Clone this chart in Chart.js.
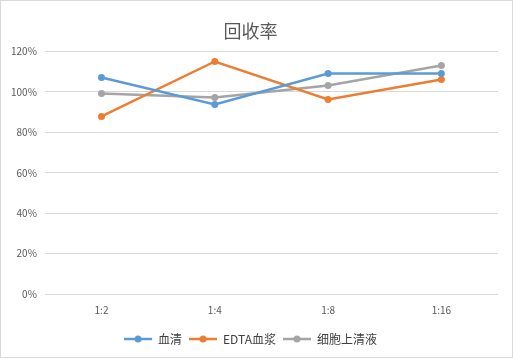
<!DOCTYPE html>
<html><head><meta charset="utf-8">
<script src="https://cdn.jsdelivr.net/npm/chart.js@4/dist/chart.umd.min.js"></script>
<style>
html,body{margin:0;padding:0;background:#fff;}
#wrap{width:513px;height:358px;box-sizing:border-box;border:1px solid #d9d9d9;}
canvas{display:block;}
</style></head>
<body><div id="wrap"><canvas id="c" width="511" height="356"></canvas></div>
<script>
const categories = ["1:2","1:4","1:8","1:16"];
const seriesNames = ["血清","EDTA血浆","细胞上清液"];
const serum = [107.2, 93.8, 109.1, 109.1];
const edta = [87.9, 115.1, 96.3, 106.2];
const supernatant = [99.3, 97.3, 103.2, 113.1];
const yTicks = [0,20,40,60,80,100,120];
const colors = ["#5B9BD5","#ED7D31","#A5A5A5"];
const FONT = "'Noto Sans CJK SC', 'Liberation Sans', sans-serif";

function legendIcon(color){
  const c=document.createElement('canvas'); c.width=28; c.height=8;
  const x=c.getContext('2d');
  x.strokeStyle=color; x.lineWidth=2.5; x.beginPath(); x.moveTo(0,4); x.lineTo(28,4); x.stroke();
  x.fillStyle=color; x.beginPath(); x.arc(14,4,3.5,0,Math.PI*2); x.fill();
  return c;
}
const data=[serum,edta,supernatant];
new Chart(document.getElementById('c'),{
  type:'line',
  data:{labels:categories,datasets:seriesNames.map((n,i)=>({
    label:n,data:data[i],borderColor:colors[i],backgroundColor:colors[i],
    borderWidth:2.5,pointRadius:3.5,pointHoverRadius:3.5,pointBorderWidth:0,tension:0,
    pointStyle:'circle'
  }))},
  options:{
    responsive:false,animation:false,
    layout:{padding:{left:2,right:14,top:13,bottom:2}},
    plugins:{
      title:{display:true,text:'回收率',color:'#595959',font:{family:FONT,size:18,weight:'normal'},padding:{top:6,bottom:10}},
      legend:{position:'bottom',labels:{
        color:'#404040',font:{family:FONT,size:12},usePointStyle:true,pointStyleWidth:28,padding:7,boxHeight:8,
        generateLabels:(chart)=>chart.data.datasets.map((d,i)=>({text:d.label,pointStyle:legendIcon(colors[i]),fillStyle:colors[i],strokeStyle:colors[i],lineWidth:0,datasetIndex:i,fontColor:'#404040'}))
      }},
      tooltip:{enabled:false}
    },
    scales:{
      x:{offset:true,grid:{display:false,drawTicks:false},border:{display:false},
        ticks:{color:'#595959',font:{family:FONT,size:10},padding:10}},
      y:{min:0,max:120,afterBuildTicks:(s)=>{s.ticks=yTicks.map(v=>({value:v}));},
        grid:{color:'#d9d9d9',drawTicks:false,lineWidth:1},border:{display:false},
        ticks:{color:'#595959',font:{family:FONT,size:10},padding:8,callback:v=>v+'%'}}
    }
  }
});
</script></body></html>
